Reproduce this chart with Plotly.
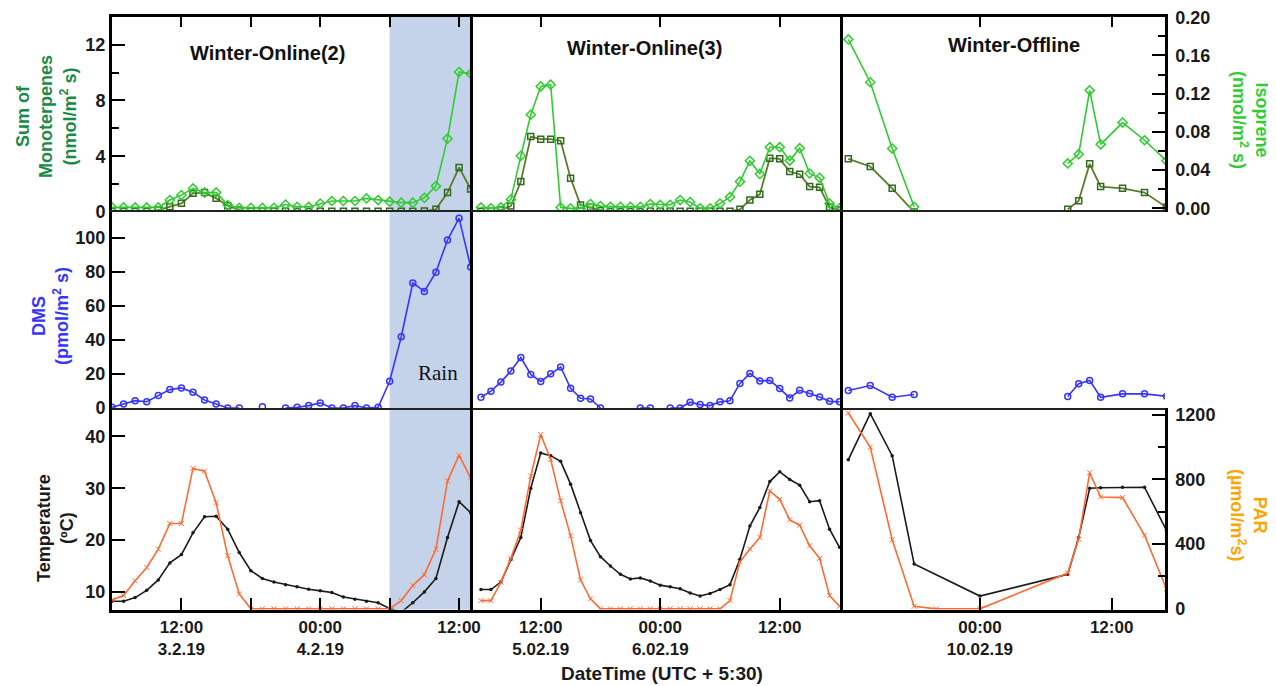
import plotly.graph_objects as go
import pandas as pd

W, H = 1276, 686
nan = None

# ---------------- time stamps ----------------
times1 = pd.date_range("2019-02-03 06:00", periods=32, freq="h")
times2 = pd.date_range("2019-02-05 06:00", periods=37, freq="h")
# (the 00:00 entry in the VOC / DMS list is an empty slot: no measurement overnight)
times3_voc = ["2019-02-09 12:00", "2019-02-09 14:00", "2019-02-09 16:00", "2019-02-09 18:00",
              "2019-02-10 00:00",
              "2019-02-10 08:00", "2019-02-10 09:00", "2019-02-10 10:00", "2019-02-10 11:00",
              "2019-02-10 13:00", "2019-02-10 15:00", "2019-02-10 17:00"]
times3_temp = ["2019-02-09 12:00", "2019-02-09 14:00", "2019-02-09 16:00", "2019-02-09 18:00",
               "2019-02-10 00:00",
               "2019-02-10 08:00", "2019-02-10 09:00", "2019-02-10 10:00", "2019-02-10 11:00",
               "2019-02-10 13:00", "2019-02-10 15:00", "2019-02-10 17:00"]
times3_par = ["2019-02-09 12:00", "2019-02-09 14:00", "2019-02-09 16:00", "2019-02-09 18:00",
              "2019-02-09 20:00", "2019-02-10 00:00",
              "2019-02-10 08:00", "2019-02-10 09:00", "2019-02-10 10:00", "2019-02-10 11:00",
              "2019-02-10 13:00", "2019-02-10 15:00", "2019-02-10 17:00"]

# ---------------- Winter-Online(2) ----------------
iso1 = [0.001, 0.001, 0.001, 0.001, 0.001, 0.0087, 0.0139, 0.0209, 0.0164, 0.0167,
        0.0035, 0.0005, 0.0005, 0.0005, 0.0005, 0.004, 0.0017, 0.0017, 0.005, 0.0077,
        0.0077, 0.0077, 0.0104, 0.0087, 0.007, 0.006, 0.006, 0.011, 0.0233, 0.073,
        0.1427, 0.141]
mono1 = [0.05, 0.05, 0.05, 0.05, 0.14, 0.38, 0.62, 1.34, 1.39, 0.98,
         0.45, 0.14, 0.05, 0.05, 0.05, 0.05, 0.05, 0.05, 0.05, 0.05,
         0.05, 0.05, 0.05, 0.05, 0.05, 0.05, 0.05, 0.07, 0.19, 1.39,
         3.19, 1.65]
dms1 = [0.4, 2.4, 4.3, 3.7, 7.3, 10.8, 11.8, 9.3, 4.7, 2.4,
        0, 0, nan, 0.8, nan, 0, 0.4, 1.4, 3.0, 0,
        0, 1.4, 0, 0.4, 15.7, 41.8, 73.4, 68.4, 79.7, 98.6,
        111.4, 82.8]
temp1 = [8.2, 8.2, 8.9, 10.3, 12.3, 15.6, 17.2, 21.4, 24.5, 24.6,
         22.1, 17.6, 14.1, 12.6, 11.9, 11.4, 11.0, 10.5, 10.2, 9.9,
         9.0, 8.6, 8.2, 7.9, 6.8, 6.1, 7.9, 10.0, 12.6, 20.5,
         27.4, 25.3]
par1 = [55, 82, 174, 256, 369, 527, 527, 868, 851, 656,
        328, 92, 0, 0, 0, 0, 0, 0, 0, 0,
        0, 0, 0, 0, 0, 51, 144, 211, 369, 790,
        948, 810]

# ---------------- Winter-Online(3) ----------------
iso2 = [0.001, 0.0, 0.001, 0.0094, 0.055, 0.098, 0.1277, 0.1294, 0.001, 0.0,
        0.0, 0.0045, 0.0024, 0.0017, 0.0017, 0.0017, 0.0017, 0.0045, 0.0038, 0.0038,
        0.0087, 0.0066, 0.0, 0.0, 0.005, 0.012, 0.028, 0.0498, 0.036, 0.064,
        0.064, 0.05, 0.063, 0.0365, 0.032, 0.005, 0.0]
mono2 = [0.05, 0.05, 0.14, 0.43, 2.18, 5.41, 5.22, 5.22, 5.10, 2.42,
         0.5, 0.34, 0.1, 0.05, 0.05, 0.05, 0.05, 0.05, 0.05, 0.05,
         0.05, 0.05, 0.05, 0.05, 0.05, 0.05, 0.19, 0.86, 1.27, 3.86,
         3.81, 2.9, 2.71, 1.82, 1.77, 0.34, 0.14]
dms2 = [6.3, 9.9, 15.2, 21.7, 29.6, 19.7, 15.6, 20.1, 24.1, 11.6,
        5.7, 5.3, 0, nan, nan, nan, 0, 0, nan, 0,
        0, 3.4, 2.0, 1.4, 3.6, 4.3, 14.4, 20.3, 15.8, 16.2,
        11.4, 5.9, 10.4, 8.5, 6.5, 3.9, 3.6]
temp2 = [10.45, 10.45, 11.9, 16.3, 20.5, 30.0, 36.8, 36.3, 35.2, 30.8,
         25.3, 19.9, 16.8, 15.0, 13.4, 12.5, 12.7, 12.1, 11.3, 11.0,
         10.6, 9.8, 9.2, 9.7, 10.45, 11.4, 16.3, 22.7, 26.3, 31.3,
         33.2, 31.7, 30.6, 27.4, 27.6, 22.1, 18.6]
par2 = [51, 51, 164, 312, 486, 820, 1077, 923, 667, 451,
        178, 62, 0, 0, 0, 0, 0, 0, 0, 0,
        0, 0, 0, 0, 0, 51, 291, 369, 441, 728,
        677, 550, 517, 390, 312, 82, 16]

# ---------------- Winter-Offline ----------------
iso3 = [0.1768, 0.132, 0.0626, 0.0017, nan, 0.047, 0.0567, 0.1235, 0.067, 0.0898, 0.0713, 0.0498]
mono3 = [3.81, 3.26, 1.70, 0.0, nan, 0.19, 0.81, 3.45, 1.82, 1.70, 1.39, 0.34]
dms3 = [10.3, 13.2, 6.3, 7.9, nan, 6.7, 14.2, 16.2, 6.3, 8.3, 8.3, 6.9]
temp3 = [35.5, 44.4, 36.3, 15.4, 9.2, 13.4, 20.5, 30.0, 30.1, 30.2, 30.2, 21.9]
par3 = [1210, 999, 427, 16, 0, 0, 221, 431, 841, 691, 687, 455, 123]

panel_titles = ["Winter-Online(2)", "Winter-Online(3)", "Winter-Offline"]
x_ranges = [["2019-02-03 06:00", "2019-02-04 13:07"],
            ["2019-02-05 05:12", "2019-02-06 18:21"],
            ["2019-02-09 11:31", "2019-02-10 16:52"]]
x_tickvals = [["2019-02-03 12:00", "2019-02-03 18:00", "2019-02-04 00:00", "2019-02-04 06:00", "2019-02-04 12:00"],
              ["2019-02-05 12:00", "2019-02-06 00:00", "2019-02-06 12:00"],
              ["2019-02-10 00:00", "2019-02-10 12:00"]]
x_ticktext = [["12:00<br>3.2.19", "", "00:00<br>4.2.19", "", "12:00"],
              ["12:00<br>5.02.19", "00:00<br>6.02.19", "12:00"],
              ["00:00<br>10.02.19", "12:00"]]
rain_start = "2019-02-04 06:00"

# ---------------- style ----------------
C_ISO = "#2fcc2f"
C_MONO_LINE = "#5a7d2c"
C_MONO_MK = "#2f6a1f"
C_DMS = "#3535ff"
C_TEMP = "#1a1a1a"
C_PAR = "#ff6a33"
C_RAIN = "#c5d3ea"
FONT = "Arial, Liberation Sans, sans-serif"

# layout geometry (screen pixels); the page body adds an 8 px margin
OFF = 8
col_px = [(112, 472), (473, 843), (843, 1165)]
row_px = [(16.7, 212), (212, 408), (408, 609.5)]
fx = lambda p: (p - OFF) / W
fy = lambda p: 1 - (p - OFF) / H

data = [
    dict(times=[times1, times1, times1], iso=iso1, mono=mono1, dms=dms1, temp=temp1, par=par1),
    dict(times=[times2, times2, times2], iso=iso2, mono=mono2, dms=dms2, temp=temp2, par=par2),
    dict(times=[times3_voc, times3_temp, times3_par], iso=iso3, mono=mono3, dms=dms3, temp=temp3, par=par3),
]

fig = go.Figure()
layout = {}
tickfont = dict(family=FONT, size=18, color="#1a1a1a", weight="bold")
xtickfont = dict(family=FONT, size=17, color="#1a1a1a", weight="bold")

Y_RANGES = [[0, 14], [0, 115], [6.6, 45.5]]
ISO_RANGE = [-0.0038, 0.2006]
PAR_RANGE = [-4, 1241]


def ax(i):
    return "" if i == 1 else str(i)


for c in range(3):
    d = data[c]
    for r in range(3):
        k = r * 3 + c + 1
        xd = [fx(col_px[c][0]), fx(col_px[c][1])]
        yd = [fy(row_px[r][1]), fy(row_px[r][0])]
        xa = dict(domain=xd, anchor="y" + ax(k), type="date", range=x_ranges[c],
                  showgrid=False, zeroline=False, tickvals=x_tickvals[c], automargin=False,
                  ticktext=x_ticktext[c], tickfont=xtickfont, ticklabeloverflow="allow",
                  linecolor="black", tickcolor="black")
        if r == 0:
            xa.update(side="top", ticks="inside", ticklen=11, tickwidth=2,
                      showticklabels=False, showline=True, linewidth=2.5)
        elif r == 1:
            xa.update(ticks="", showticklabels=False, showline=True, mirror=True,
                      linewidth=1.6, linecolor="#222")
        else:
            xa.update(side="bottom", ticks="inside", ticklen=12, tickwidth=2,
                      showticklabels=True, showline=True, linewidth=3)
        layout["xaxis" + ax(k)] = xa

        ya = dict(domain=yd, anchor="x" + ax(k), range=Y_RANGES[r], showgrid=False,
                  zeroline=False, showline=True, linecolor="black", automargin=False,
                  ticklabeloverflow="allow",
                  linewidth=3 if c == 0 else 2.5, tickfont=tickfont, tickcolor="black")
        if c == 0:
            ya.update(ticks="inside", ticklen=13, tickwidth=2, showticklabels=True)
            if r == 0:
                ya.update(tickvals=[0, 4, 8, 12],
                          minor=dict(tickvals=[2, 6, 10], ticks="inside", ticklen=7,
                                     tickwidth=2, tickcolor="black"))
            elif r == 1:
                ya.update(tickvals=[0, 20, 40, 60, 80, 100])
            else:
                ya.update(tickvals=[10, 20, 30, 40])
        else:
            ya.update(ticks="", showticklabels=False)
        layout["yaxis" + ax(k)] = ya

    # right-hand axes (isoprene on top row, DMS mirror on mid, PAR on bottom)
    k_top, k_mid, k_bot = c + 1, 3 + c + 1, 6 + c + 1
    kr_iso, kr_par = 10 + c, 13 + c
    show = c == 2
    layout["yaxis" + ax(kr_iso)] = dict(
        overlaying="y" + ax(k_top), anchor="x" + ax(k_top), side="right", range=ISO_RANGE,
        showgrid=False, zeroline=False, showline=show, linewidth=2.5, linecolor="black",
        ticks="inside" if show else "", ticklen=13, tickwidth=2, tickcolor="black",
        tickvals=[0, 0.04, 0.08, 0.12, 0.16, 0.2], tickformat=".2f", automargin=False,
        showticklabels=show, tickfont=tickfont, ticklabelstandoff=4,
        ticklabeloverflow="allow",
        minor=dict(tickvals=[0.02, 0.06, 0.10, 0.14, 0.18], ticks="inside" if show else "",
                   ticklen=7, tickwidth=2, tickcolor="black"))
    layout["yaxis" + ax(kr_par)] = dict(
        overlaying="y" + ax(k_bot), anchor="x" + ax(k_bot), side="right", range=PAR_RANGE,
        showgrid=False, zeroline=False, showline=show, linewidth=2.5, linecolor="black",
        ticks="inside" if show else "", ticklen=13, tickwidth=2, tickcolor="black",
        tickvals=[0, 400, 800, 1200], showticklabels=show, tickfont=tickfont,
        ticklabelstandoff=4, automargin=False, ticklabeloverflow="allow",
        minor=dict(tickvals=[200, 600, 1000], ticks="inside" if show else "",
                   ticklen=7, tickwidth=2, tickcolor="black"))
    if show:
        layout["yaxis16"] = dict(
            overlaying="y" + ax(k_mid), anchor="x" + ax(k_mid), side="right",
            range=Y_RANGES[1], showgrid=False, zeroline=False, showline=True,
            linewidth=2.5, linecolor="black", ticks="inside", ticklen=13, tickwidth=2,
            tickcolor="black", tickvals=[20, 40, 60, 80, 100], showticklabels=False,
            automargin=False)

    tv, tt, tp = d["times"]
    # Monoterpenes (left) and isoprene (right)
    fig.add_trace(go.Scatter(
        x=tv, y=d["mono"], xaxis="x" + ax(k_top), yaxis="y" + ax(k_top), mode="lines+markers",
        line=dict(color=C_MONO_LINE, width=1.8),
        marker=dict(symbol="square-open", size=6, color=C_MONO_MK, line=dict(width=1.5)),
        name="Sum of Monoterpenes"))
    fig.add_trace(go.Scatter(
        x=tv, y=d["iso"], xaxis="x" + ax(k_top), yaxis="y" + ax(kr_iso), mode="lines+markers",
        line=dict(color=C_ISO, width=1.6),
        marker=dict(symbol="diamond-open", size=7, color=C_ISO, line=dict(width=1.5)),
        name="Isoprene"))
    # DMS
    fig.add_trace(go.Scatter(
        x=tv, y=d["dms"], xaxis="x" + ax(k_mid), yaxis="y" + ax(k_mid), mode="lines+markers",
        line=dict(color=C_DMS, width=1.6),
        marker=dict(symbol="circle-open", size=6, color=C_DMS, line=dict(width=1.5)),
        name="DMS"))
    # PAR (right) and temperature (left)
    fig.add_trace(go.Scatter(
        x=tp, y=d["par"], xaxis="x" + ax(k_bot), yaxis="y" + ax(kr_par), mode="lines+markers",
        line=dict(color=C_PAR, width=1.6),
        marker=dict(symbol="x-thin-open", size=5, color=C_PAR, line=dict(width=1, color=C_PAR)),
        name="PAR"))
    fig.add_trace(go.Scatter(
        x=tt, y=d["temp"], xaxis="x" + ax(k_bot), yaxis="y" + ax(k_bot), mode="lines+markers",
        line=dict(color=C_TEMP, width=1.6),
        marker=dict(symbol="circle", size=3.5, color=C_TEMP),
        name="Temperature"))

# rain shading over the last part of Winter-Online(2)
shapes = [dict(type="rect", xref="x", yref="paper", x0=rain_start, x1=x_ranges[0][1],
               y0=fy(row_px[2][1]), y1=fy(row_px[0][0]), fillcolor=C_RAIN,
               line=dict(width=0), layer="below")]

ann = []


def label(text, px, py, size, color, angle=0, family=FONT, weight="bold"):
    ann.append(dict(text=text, x=fx(px), y=fy(py), xref="paper", yref="paper",
                    showarrow=False, textangle=angle, xanchor="center", yanchor="middle",
                    font=dict(family=family, size=size, color=color, weight=weight)))


title_pos = [(267, 53), (644, 48), (1014, 45)]
for t, (px, py) in zip(panel_titles, title_pos):
    label(t, px, py, 20, "#111")

label("Rain", 438, 373, 21, "#111", family="Times New Roman, Liberation Serif, serif",
      weight="normal")
label("Sum of<br>Monoterpenes<br>(nmol/m<sup>2</sup> s)", 46, 117, 18, "#1b8a48", -90)
label("DMS<br>(pmol/m<sup>2</sup> s)", 50, 316, 18, C_DMS, -90)
label("Temperature<br>(ºC)", 55, 528, 18, "#1a1a1a", -90)
label("Isoprene<br>(nmol/m<sup>2</sup> s)", 1250, 120, 18, "#33cc33", 90)
label("PAR<br>(µmol/m<sup>2</sup>s)", 1249, 515, 18, "#ffa500", 90)
label("DateTime (UTC + 5:30)", 662, 673, 19, "#1a1a1a")

fig.update_layout(**layout)
fig.update_layout(
    width=W, height=H, margin=dict(l=0, r=0, t=0, b=0, pad=0, autoexpand=False),
    paper_bgcolor="white", plot_bgcolor="rgba(0,0,0,0)",
    showlegend=False, shapes=shapes, annotations=ann,
)

fig.write_html("out.html")
